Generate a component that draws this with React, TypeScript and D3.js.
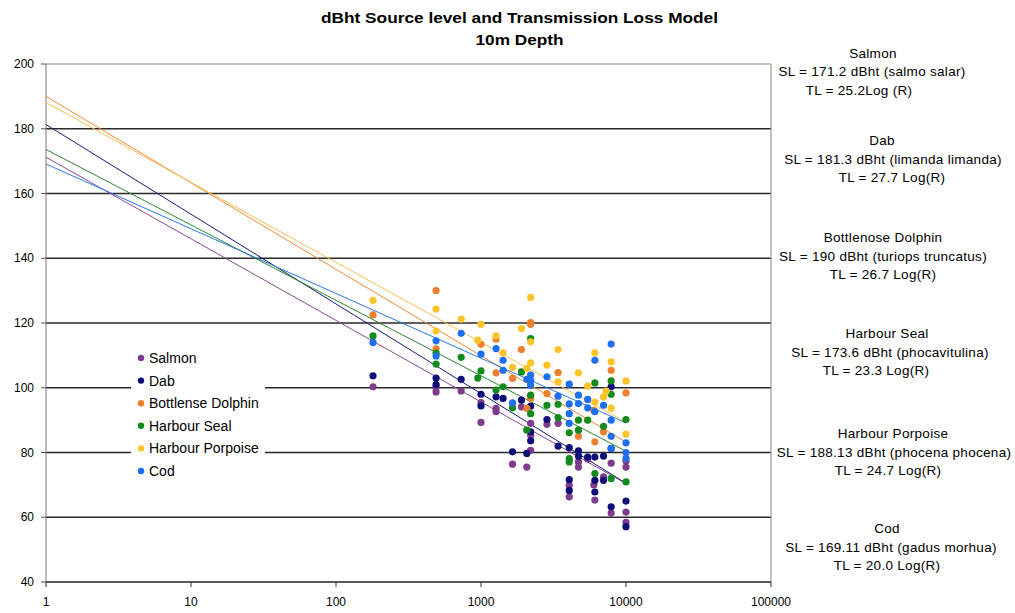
import React from "react";
import * as d3 from "d3";

const seriesNames = ["Salmon", "Dab", "Bottlense Dolphin", "Harbour Seal", "Harbour Porpoise", "Cod"];
const seriesColors = ["#7f3b8c", "#0d0d7a", "#ee7f2d", "#138a1c", "#fdc42a", "#1e6ff0"];
const trendColors = ["#8a4a96", "#1a1a80", "#f08a3a", "#2a8a30", "#f5c050", "#2a78e8"];

// Source level (intercept at R=1) and TL coefficient
const sourceLevels = [171.2, 181.3, 190, 173.6, 188.13, 169.11];
const tlCoefs = [25.2, 27.7, 26.7, 23.3, 24.7, 20.0];

const salmonX = [180, 490, 490, 730, 1000, 1000, 1270, 1270, 1650, 1900, 2070, 2200, 2200, 2200, 2850, 3400, 4060, 4060, 4700, 4700, 5440, 6000, 6100, 7000, 7900, 7900, 10000, 10000, 10000, 10000];
const salmonY = [100.3, 100.3, 98.7, 99, 95.4, 89.3, 93.6, 92.6, 76.4, 94.1, 75.5, 89, 85.3, 80.7, 88.7, 89, 69.9, 66.3, 77.1, 75.5, 78, 70, 65.3, 72.5, 76.7, 61.3, 77.4, 75.5, 61.6, 58.4];

const dabX = [180, 490, 490, 730, 1000, 1000, 1270, 1420, 1650, 1900, 2070, 2200, 2200, 2200, 2850, 3400, 4060, 4060, 4060, 4700, 4700, 5440, 6100, 6100, 6100, 7000, 7000, 7900, 7900, 7900, 10000, 10000];
const dabY = [103.7, 103, 101, 102.6, 98, 94.4, 97.2, 96.7, 80.2, 96.2, 79.7, 94.3, 86.4, 83.6, 90.2, 82, 81.5, 71.6, 68.3, 80.5, 78.9, 78.6, 78.6, 71.4, 67.8, 78.9, 71.4, 100.3, 81.2, 63.2, 65, 57.1];

const dolphinX = [180, 490, 490, 1000, 1270, 1270, 1650, 1900, 2070, 2200, 2200, 2200, 2850, 3400, 4700, 6000, 6100, 7000, 7900, 10000];
const dolphinY = [122.5, 130, 112, 113.4, 115, 104.6, 102.9, 111.8, 93.6, 120.1, 119.6, 96.7, 98.2, 104.7, 85, 93, 83.3, 86.4, 105.4, 98.4];

const sealX = [180, 490, 490, 730, 950, 1000, 1270, 1420, 1650, 1900, 2070, 2200, 2200, 2200, 2850, 3400, 3400, 4060, 4060, 4060, 4700, 4700, 5440, 6100, 6100, 7000, 7900, 7900, 7900, 10000, 10000];
const sealY = [116, 110.7, 107.3, 109.4, 103, 105.2, 99.3, 100.3, 93.8, 104.9, 86.9, 115.2, 97.7, 92, 94.6, 94.9, 90.8, 86.1, 78.1, 77.1, 90, 86.9, 90, 101.5, 73.5, 88.1, 102.1, 98, 72, 90.2, 70.9];

const porpoiseX = [180, 490, 490, 730, 950, 1000, 1270, 1420, 1650, 1900, 2070, 2200, 2200, 2200, 2850, 3400, 3400, 4700, 5440, 6100, 6100, 7000, 7300, 7900, 7900, 10000, 10000];
const porpoiseY = [127, 124.3, 117.5, 121.2, 114.7, 119.6, 116, 110.8, 106.3, 118.3, 106, 127.9, 114.2, 107.7, 107, 111.8, 101.8, 104.6, 100.5, 110.8, 95.6, 97.2, 99, 108, 93.7, 102.1, 85.7];

const codX = [180, 490, 490, 730, 1000, 1270, 1420, 1420, 1650, 2070, 2200, 2200, 2200, 2850, 3400, 4060, 4060, 4060, 4060, 4700, 4700, 5440, 5440, 6100, 6100, 7000, 7900, 7900, 7900, 7900, 10000, 10000, 10000];
const codY = [114, 114.5, 109.8, 116.8, 110.4, 112.1, 108.5, 105.4, 95.3, 102.6, 103.9, 102.3, 100.8, 103.4, 97.4, 101.1, 95, 92, 89, 97.7, 95.1, 96.4, 93.8, 108.5, 92.6, 94.6, 113.5, 90, 85, 81.3, 83, 80, 78.2];

const seriesX = [salmonX, dabX, dolphinX, sealX, porpoiseX, codX];
const seriesY = [salmonY, dabY, dolphinY, sealY, porpoiseY, codY];

const yTicks = [40, 60, 80, 100, 120, 140, 160, 180, 200];
const xTicks = [1, 10, 100, 1000, 10000, 100000];

const titleLines = ["dBht Source level and Transmission Loss Model", "10m Depth"];
const titleWidths = [397, 88];

const annotations = [
  { lines: ["Salmon", "SL = 171.2 dBht (salmo salar)", "TL = 25.2Log (R)"], cx: [873, 872, 859], y: 52.5 },
  { lines: ["Dab", "SL = 181.3 dBht (limanda limanda)", "TL = 27.7 Log(R)"], cx: [882, 893, 892], y: 140 },
  { lines: ["Bottlenose Dolphin", "SL = 190 dBht (turiops truncatus)", "TL = 26.7 Log(R)"], cx: [883, 883, 883], y: 237 },
  { lines: ["Harbour Seal", "SL = 173.6 dBht (phocavitulina)", "TL = 23.3 Log(R)"], cx: [887, 890, 876], y: 333 },
  { lines: ["Harbour Porpoise", "SL = 188.13 dBht (phocena phocena)", "TL = 24.7 Log(R)"], cx: [893, 894, 888], y: 433 },
  { lines: ["Cod", "SL = 169.11 dBht (gadus morhua)", "TL = 20.0 Log(R)"], cx: [887, 891, 887], y: 528 },
];

const FONT = "'Liberation Sans', Arial, sans-serif";

export default function App() {
  const W = 1015, H = 613;
  const left = 46, right = 771, top = 64, bottom = 582;
  const x = d3.scaleLog().domain([1, 100000]).range([left, right]);
  const y = d3.scaleLinear().domain([40, 200]).range([bottom, top]);
  const trendDomain = [1, 10000];

  const legendX = 131, legendY = 346, legendW = 134, legendH = 136;

  return (
    <svg width={W} height={H} style={{ position: "absolute", left: 0, top: 0, background: "#fff" }} fontFamily={FONT}>
      <rect x={0} y={0} width={W} height={H} fill="#fff" />
      {/* title */}
      {titleLines.map((t, i) => (
        <text key={i} x={519.5} y={22.5 + i * 22} textAnchor="middle" fontSize={15} fontWeight="bold" fill="#000"
          textLength={titleWidths[i]} lengthAdjust="spacingAndGlyphs">{t}</text>
      ))}
      {/* gridlines */}
      {yTicks.filter((v) => v > 40 && v < 200).map((v) => (
        <line key={v} x1={left} x2={right} y1={y(v)} y2={y(v)} stroke="#2a2a2a" strokeWidth={1.3} />
      ))}
      {/* frame */}
      <line x1={left} x2={right} y1={top} y2={top} stroke="#888" />
      <line x1={right} x2={right} y1={top} y2={bottom} stroke="#888" />
      <line x1={left} x2={left} y1={top} y2={bottom} stroke="#777" />
      <line x1={left} x2={right} y1={bottom} y2={bottom} stroke="#222" strokeWidth={1.3} />
      {/* y ticks */}
      {yTicks.map((v) => (
        <g key={v}>
          <line x1={left - 5} x2={left} y1={y(v)} y2={y(v)} stroke="#555" />
          <text x={34} y={y(v) + 4} textAnchor="end" fontSize={12} fill="#000">{v}</text>
        </g>
      ))}
      {/* x ticks */}
      {xTicks.map((v) => (
        <g key={v}>
          <line x1={x(v)} x2={x(v)} y1={bottom} y2={bottom + 5} stroke="#333" />
          <text x={x(v)} y={606} textAnchor="middle" fontSize={12} fill="#000">{v}</text>
        </g>
      ))}
      {/* trend lines */}
      {sourceLevels.map((sl, i) => {
        const pts = trendDomain.map((r) => [r, sl - tlCoefs[i] * Math.log10(r)]);
        const d = d3.line<number[]>().x((p) => x(p[0])).y((p) => y(p[1]))(pts) || "";
        return <path key={i} d={d} fill="none" stroke={trendColors[i]} strokeWidth={1} />;
      })}
      {/* points */}
      {seriesX.map((xs, i) => (
        <g key={i}>
          {xs.map((xv, j) => (
            <circle key={j} cx={x(xv)} cy={y(seriesY[i][j])} r={3.6} fill={seriesColors[i]} />
          ))}
        </g>
      ))}
      {/* legend */}
      <rect x={legendX} y={legendY} width={legendW} height={legendH} fill="#fff" />
      {seriesNames.map((n, i) => (
        <g key={n}>
          <circle cx={141} cy={358 + i * 22.6} r={3.2} fill={seriesColors[i]} />
          <text x={149} y={358 + i * 22.6 + 5} fontSize={14} fill="#000">{n}</text>
        </g>
      ))}
      {/* annotations */}
      {annotations.map((a, k) => (
        <g key={k}>
          {a.lines.map((l, i) => (
            <text key={i} x={a.cx[i]} y={a.y + i * 18.7 + 5} textAnchor="middle" fontSize={13.5} letterSpacing={0.3} fill="#000">{l}</text>
          ))}
        </g>
      ))}
    </svg>
  );
}
